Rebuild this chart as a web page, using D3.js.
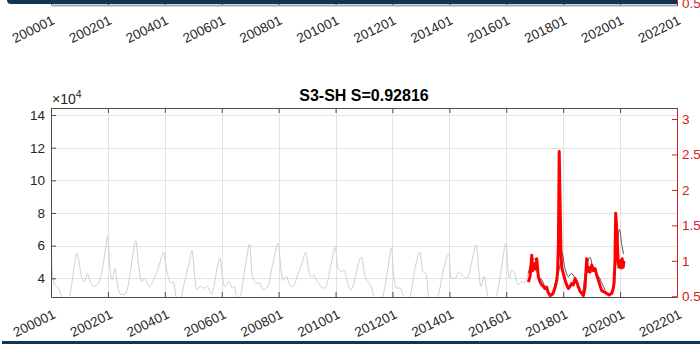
<!DOCTYPE html>
<html>
<head>
<meta charset="utf-8">
<script src="https://cdn.jsdelivr.net/npm/d3@7"></script>
<style>
  html, body { margin: 0; padding: 0; background: #fff; }
  svg { display: block; font-family: "Liberation Sans", Arial, Helvetica, sans-serif; }
</style>
</head>
<body>
<svg id="chart" width="700" height="344"></svg>
<script>
// ---- data ---------------------------------------------------------------
const chartTitle = "S3-SH S=0.92816";
const xTickLabels = ["200001", "200201", "200401", "200601", "200801", "201001",
                     "201201", "201401", "201601", "201801", "202001", "202201"];
const leftTicks = [4, 6, 8, 10, 12, 14];          // x 10^4
const rightTicks = [0.5, 1, 1.5, 2, 2.5, 3];
const rightTickLabels = ["0.5", "1", "1.5", "2", "2.5", "3"];

// weekly series, smoothed (units of 10^4), 2000 – autumn 2016
const grayDates = [
  "2000-01-01","2000-01-25","2000-02-20","2000-03-25","2000-05-01","2000-06-10","2000-07-25","2000-09-01","2000-10-10","2000-11-05","2000-12-01","2000-12-25",
  "2001-02-01","2001-03-10","2001-04-10","2001-05-10","2001-07-01","2001-08-15","2001-10-15","2001-12-01","2001-12-28",
  "2002-01-20","2002-02-25","2002-04-01","2002-05-01","2002-06-10","2002-08-01","2002-09-20","2002-11-15","2002-12-25",
  "2003-01-25","2003-03-10","2003-04-15","2003-06-15","2003-07-20","2003-09-15","2003-11-01","2003-12-15",
  "2004-01-20","2004-03-25","2004-04-20","2004-06-01","2004-07-15","2004-09-01","2004-11-10","2004-12-15",
  "2005-01-15","2005-02-15","2005-04-01","2005-05-15","2005-07-01","2005-08-25","2005-09-25","2005-11-15","2005-12-10",
  "2006-01-05","2006-02-10","2006-04-10","2006-05-10","2006-06-10","2006-07-20","2006-09-01","2006-11-01","2006-12-28",
  "2007-01-20","2007-02-15","2007-03-20","2007-05-01","2007-06-15","2007-08-15","2007-10-15","2007-12-28",
  "2008-02-01","2008-03-01","2008-04-10","2008-05-20","2008-07-01","2008-09-01","2008-11-01","2008-12-15",
  "2009-01-20","2009-02-20","2009-03-25","2009-05-01","2009-07-25","2009-09-01","2009-11-01","2009-12-28",
  "2010-02-01","2010-03-20","2010-04-20","2010-06-01","2010-07-15","2010-09-01","2010-10-15","2010-12-01",
  "2011-01-15","2011-03-10","2011-04-15","2011-05-20","2011-08-01","2011-09-15","2011-11-10","2011-12-20",
  "2012-01-20","2012-02-20","2012-04-01","2012-05-01","2012-06-10","2012-07-15","2012-08-20","2012-10-25","2012-12-20",
  "2013-01-25","2013-03-10","2013-04-01","2013-05-10","2013-07-01","2013-08-15","2013-10-15","2013-12-28",
  "2014-01-20","2014-03-20","2014-05-01","2014-06-15","2014-08-15","2014-10-15","2014-12-15",
  "2015-01-10","2015-02-10","2015-03-20","2015-04-25","2015-05-20","2015-07-15","2015-09-01","2015-11-01","2015-12-28",
  "2016-01-20","2016-02-10","2016-03-10","2016-04-10","2016-06-01","2016-07-15","2016-08-15","2016-10-08"
];
const grayValues = [
  5.95,4.0,3.6,3.5,3.1,2.5,2.5,3.0,4.2,5.1,5.55,5.0,
  4.0,3.8,4.3,3.9,3.5,3.6,4.4,5.8,6.6,
  5.0,3.9,4.6,3.7,3.0,3.0,3.6,5.4,6.3,
  5.0,3.8,4.0,3.5,3.7,4.3,5.0,5.6,
  4.6,3.7,3.8,2.7,2.6,3.6,5.0,5.7,
  4.3,3.3,3.5,3.4,3.5,3.0,3.6,4.9,5.25,
  4.2,3.5,3.8,3.4,3.5,2.7,3.0,4.8,6.1,
  4.5,3.9,3.7,3.7,3.3,3.5,4.8,6.15,
  4.5,3.9,4.1,3.6,3.5,4.2,5.0,5.6,
  4.5,4.1,4.2,3.9,3.4,3.5,4.8,5.9,
  4.6,4.4,4.5,3.8,3.3,3.8,4.8,5.3,
  4.1,3.7,3.3,2.6,2.5,3.2,4.8,5.85,
  4.0,3.4,3.4,3.2,2.6,2.5,3.0,4.8,5.6,
  4.4,4.3,3.2,2.6,2.5,3.0,4.5,5.5,
  4.0,4.0,4.4,4.2,4.0,5.0,6.05,
  4.6,3.5,4.1,3.3,2.6,2.5,3.0,4.6,6.15,
  4.8,4.0,4.5,4.4,3.6,3.8,3.7,4.3
];

// same series over the comparison window (units of 10^4)
const darkDates = [
  "2016-10-08","2016-11-15","2017-01-05","2017-02-10","2017-04-01","2017-06-01","2017-08-01","2017-10-01","2017-11-20","2017-12-15",
  "2018-01-20","2018-03-10","2018-04-15","2018-06-01","2018-07-20","2018-09-01","2018-10-15","2018-12-10",
  "2019-01-20","2019-03-01","2019-04-15","2019-06-01","2019-08-01","2019-09-15","2019-11-01","2019-12-25",
  "2020-01-25","2020-02-15"
];
const darkValues = [
  4.3,4.9,5.2,4.2,3.9,3.3,3.0,3.9,4.8,5.6,
  4.7,4.1,4.3,4.0,3.4,3.1,4.4,5.3,
  4.6,4.3,4.0,3.5,3.0,3.2,4.6,7.0,
  6.0,5.5
];

// comparison series on the right axis
const redDates = [
  "2016-10-11","2016-11-02","2016-11-24","2016-12-04","2016-12-13","2017-01-04","2017-01-14","2017-01-26","2017-02-17","2017-03-11",
  "2017-04-01","2017-04-22","2017-05-12","2017-06-03","2017-06-20","2017-07-16","2017-08-06","2017-08-24","2017-09-19","2017-10-11",
  "2017-10-21","2017-10-31","2017-11-11","2017-11-21","2017-12-04","2017-12-13","2018-01-03","2018-01-25","2018-02-15","2018-03-08",
  "2018-03-30","2018-04-20","2018-05-11","2018-06-02","2018-06-24","2018-07-15","2018-08-06","2018-08-27","2018-09-17","2018-10-08",
  "2018-10-30","2018-11-10","2018-11-20","2018-12-12","2019-01-03","2019-01-24","2019-02-14","2019-03-07","2019-03-28","2019-04-19",
  "2019-05-10","2019-06-09","2019-07-14","2019-08-13","2019-09-16","2019-10-03","2019-10-16","2019-10-28","2019-11-06","2019-11-16",
  "2019-11-26","2019-12-07","2019-12-18","2020-01-01","2020-01-08","2020-01-18","2020-01-29","2020-02-11","2020-02-19"
];
const redValues = [
  0.70,0.78,1.08,0.86,0.91,0.96,0.88,1.03,0.77,0.70,
  0.66,0.64,0.61,0.63,0.56,0.51,0.52,0.54,0.62,0.73,
  0.85,1.20,2.54,1.90,1.10,0.91,0.82,0.73,0.66,0.61,
  0.64,0.68,0.66,0.75,0.70,0.63,0.57,0.54,0.51,0.62,
  1.03,0.85,0.91,0.84,0.94,0.86,0.89,0.80,0.73,0.65,
  0.58,0.56,0.54,0.52,0.54,0.60,0.68,1.00,1.67,1.50,
  1.29,1.00,0.91,0.98,1.00,0.90,1.03,0.91,1.00
];

// ---- layout & scales ----------------------------------------------------
const svg = d3.select("#chart");
const box = { left: 51, right: 677, top: 108, bottom: 297 };
const parseDay = d3.timeParse("%Y-%m-%d");
const parseTick = d3.timeParse("%Y%m");
const tickDates = xTickLabels.map(parseTick);

const x = d3.scaleTime()
  .domain([parseTick("200001"), parseTick("202201")])
  .range([box.left, box.right]);
const yL = d3.scaleLinear().domain([2.855, 14.43]).range([box.bottom, box.top]);
const yR = d3.scaleLinear().domain([0.49, 3.155]).range([box.bottom, box.top]);

const axisGray = "#4d4d4d";
const textGray = "#262626";
const axisRed = "#d42020";
const tickFont = "13.5px";

// ---- remnants of the panel above: its bottom axis and labels -------------
const upperAxisY = 5;
const upper = svg.append("g").attr("transform", `translate(0,${upperAxisY})`)
  .call(d3.axisBottom(x).tickValues(tickDates).tickSize(-3).tickSizeOuter(0)
        .tickFormat((d, i) => xTickLabels[i]));
upper.select(".domain").attr("stroke", "#a8a8a8").attr("stroke-width", 2);
upper.selectAll(".tick line").attr("stroke", axisGray);
upper.selectAll(".tick text")
  .attr("x", 0).attr("y", 0).attr("dy", null)
  .attr("text-anchor", "end")
  .attr("transform", "translate(4,18.5) rotate(-26)")
  .attr("fill", textGray).style("font-size", tickFont);

// header band of the figure window
svg.append("path")
  .attr("d", `M7,0 H${box.right} V4 H11 Q7,4 7,0 Z`)
  .attr("fill", "#0f3753");
svg.append("line")
  .attr("x1", box.right + 0.5).attr("x2", box.right + 0.5)
  .attr("y1", 0).attr("y2", upperAxisY + 1)
  .attr("stroke", axisRed).attr("stroke-width", 1);
svg.append("text")
  .attr("x", box.right + 5).attr("y", 8)
  .attr("fill", axisRed).style("font-size", tickFont)
  .text(rightTickLabels[0]);

// ---- main panel ----------------------------------------------------------
svg.append("defs").append("clipPath").attr("id", "plotClip")
  .append("rect")
  .attr("x", box.left).attr("y", box.top)
  .attr("width", box.right - box.left).attr("height", box.bottom - box.top);

// grid
const grid = svg.append("g").attr("stroke", "#e3e3e3").attr("stroke-width", 1);
grid.selectAll("line.v").data(tickDates).join("line")
  .attr("class", "v")
  .attr("x1", d => Math.round(x(d)) + 0.5).attr("x2", d => Math.round(x(d)) + 0.5)
  .attr("y1", box.top).attr("y2", box.bottom);
grid.selectAll("line.h").data(leftTicks).join("line")
  .attr("class", "h")
  .attr("x1", box.left).attr("x2", box.right)
  .attr("y1", d => Math.round(yL(d)) + 0.5).attr("y2", d => Math.round(yL(d)) + 0.5);

// series
const plot = svg.append("g").attr("clip-path", "url(#plotClip)");
const lineL = d3.line().x(d => x(d[0])).y(d => yL(d[1])).curve(d3.curveMonotoneX);
const lineR = d3.line().x(d => x(d[0])).y(d => yR(d[1]));

plot.append("path")
  .datum(grayDates.map((d, i) => [parseDay(d), grayValues[i]]))
  .attr("d", lineL).attr("fill", "none")
  .attr("stroke", "#d0d0d0").attr("stroke-width", 1);
plot.append("path")
  .datum(darkDates.map((d, i) => [parseDay(d), darkValues[i]]))
  .attr("d", lineL).attr("fill", "none")
  .attr("stroke", "#555").attr("stroke-width", 1);
plot.append("path")
  .datum(redDates.map((d, i) => [parseDay(d), redValues[i]]))
  .attr("d", lineR).attr("fill", "none")
  .attr("stroke", "#ff0000").attr("stroke-width", 3)
  .attr("stroke-linejoin", "round");

// bottom axis
const xb = svg.append("g").attr("transform", `translate(0,${box.bottom})`)
  .call(d3.axisBottom(x).tickValues(tickDates).tickSize(-5).tickSizeOuter(0)
        .tickFormat((d, i) => xTickLabels[i]));
xb.select(".domain").attr("stroke", axisGray);
xb.selectAll(".tick line").attr("stroke", axisGray);
xb.selectAll(".tick text")
  .attr("x", 0).attr("y", 0).attr("dy", null)
  .attr("text-anchor", "end")
  .attr("transform", "translate(5,20.5) rotate(-26)")
  .attr("fill", textGray).style("font-size", tickFont);

// top edge of the box
const xt = svg.append("g").attr("transform", `translate(0,${box.top})`)
  .call(d3.axisTop(x).tickValues(tickDates).tickSize(-5).tickSizeOuter(0).tickFormat(""));
xt.select(".domain").attr("stroke", axisGray);
xt.selectAll(".tick line").attr("stroke", axisGray);

// left axis
const yl = svg.append("g").attr("transform", `translate(${box.left},0)`)
  .call(d3.axisLeft(yL).tickValues(leftTicks).tickSize(-5).tickSizeOuter(0).tickPadding(6));
yl.select(".domain").attr("stroke", axisGray);
yl.selectAll(".tick line").attr("stroke", axisGray);
yl.selectAll(".tick text").attr("fill", textGray).style("font-size", tickFont);

// exponent label
const expo = svg.append("text").attr("x", box.left + 1).attr("y", 104)
  .attr("fill", textGray).style("font-size", "14px");
expo.append("tspan").text("\u00d710");
expo.append("tspan").attr("dy", -6).style("font-size", "10.5px").text("4");

// right axis
const yr = svg.append("g").attr("transform", `translate(${box.right},0)`)
  .call(d3.axisRight(yR).tickValues(rightTicks).tickSize(-5).tickSizeOuter(0).tickPadding(5)
        .tickFormat((d, i) => rightTickLabels[i]));
yr.select(".domain").attr("stroke", axisRed);
yr.selectAll(".tick line").attr("stroke", axisRed);
yr.selectAll(".tick text").attr("fill", axisRed).style("font-size", tickFont);

// title
svg.append("text")
  .attr("x", (box.left + box.right) / 2).attr("y", 101)
  .attr("text-anchor", "middle")
  .attr("fill", "#000").style("font-size", "16px").style("font-weight", "bold")
  .text(chartTitle);

// footer band of the figure window
svg.append("rect").attr("x", 2).attr("y", 341).attr("width", 698).attr("height", 3)
  .attr("fill", "#0f3753");
</script>
</body>
</html>
